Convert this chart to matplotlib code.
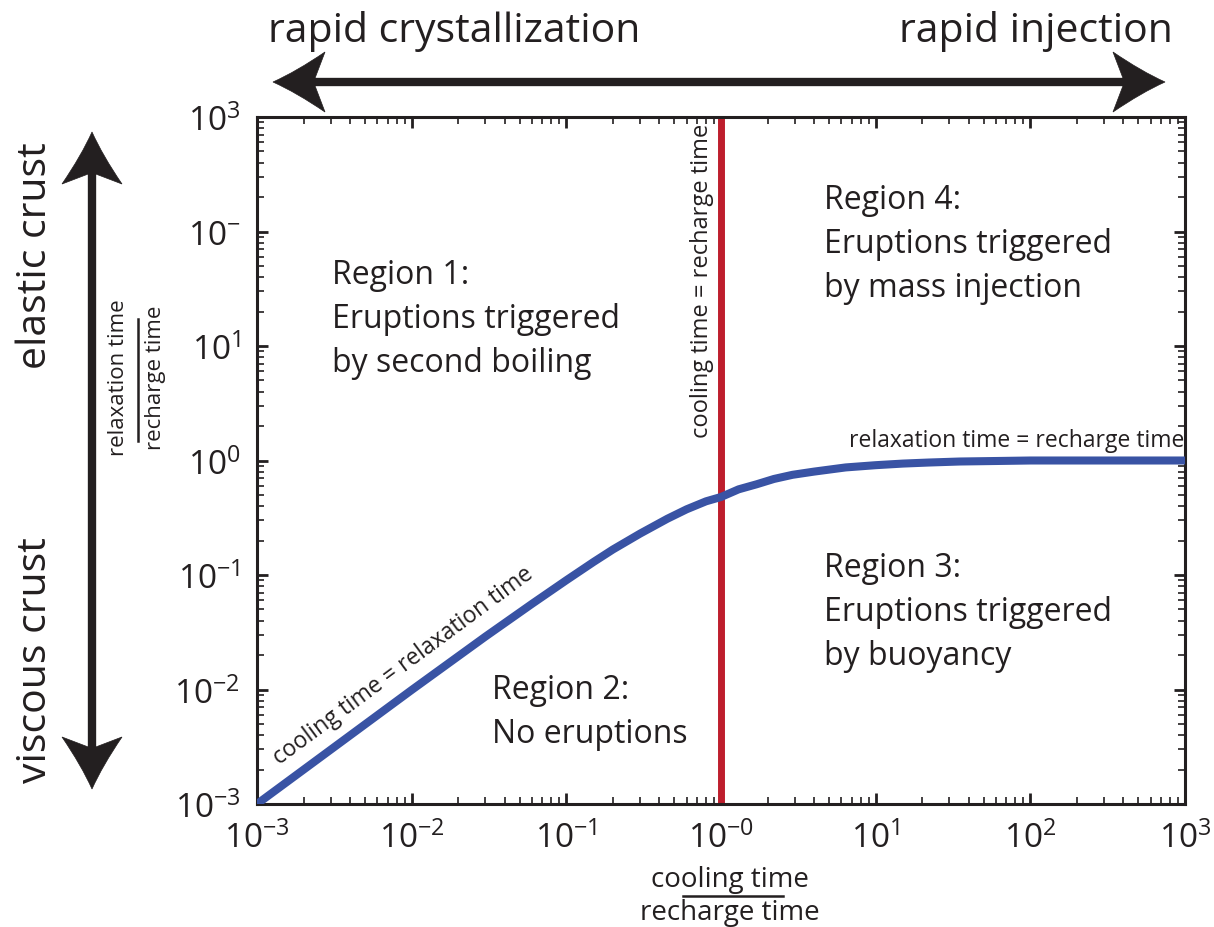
import numpy as np
import matplotlib
matplotlib.use("Agg")
import matplotlib.pyplot as plt
from matplotlib.path import Path
from matplotlib.patches import PathPatch
from matplotlib.lines import Line2D
from matplotlib.transforms import IdentityTransform
from matplotlib.ticker import FixedLocator, LogLocator, NullFormatter

plt.rcParams['font.family'] = ['Open Sans', 'DejaVu Sans']
plt.rcParams['mathtext.fontset'] = 'custom'
plt.rcParams['mathtext.rm'] = 'Open Sans'
plt.rcParams['mathtext.it'] = 'Open Sans:italic'

INK = '#231f20'
BLUE = '#3953a4'
RED = '#be1e2d'

# boundary curve: cooling time = relaxation time
cool_ratio = [1e-3, 1e-2, 0.03, 0.06, 0.1, 0.15, 0.2, 0.3, 0.45, 0.6, 0.8, 1.0, 1.3,
              1.7, 2.2, 2.9, 4.0, 6.4, 10, 15, 22, 35, 60, 100, 1000]
relax_ratio = [1e-3, 0.0099, 0.029, 0.056, 0.09, 0.13, 0.167, 0.23, 0.31, 0.375, 0.44,
               0.48, 0.56, 0.62, 0.69, 0.75, 0.80, 0.87, 0.91, 0.94, 0.96, 0.98, 0.99,
               1.0, 1.0]
# vertical boundary: cooling time = recharge time
red_x = 1.0

decades = [1e-3, 1e-2, 1e-1, 1e0, 1e1, 1e2, 1e3]
xtick_labels = [r'$\mathregular{10^{-3}}$', r'$\mathregular{10^{-2}}$', r'$\mathregular{10^{-1}}$',
                r'$\mathregular{10^{-0}}$', r'$\mathregular{10^{1}}$', r'$\mathregular{10^{2}}$',
                r'$\mathregular{10^{3}}$']
ytick_labels = [r'$\mathregular{10^{-3}}$', r'$\mathregular{10^{-2}}$', r'$\mathregular{10^{-1}}$',
                r'$\mathregular{10^{0}}$', r'$\mathregular{10^{1}}$', r'$\mathregular{10^{-}}$',
                r'$\mathregular{10^{3}}$']

regions = [
    ("Region 1:\nEruptions triggered\nby second boiling", 332, 259),
    ("Region 2:\nNo eruptions", 492, 674),
    ("Region 3:\nEruptions triggered\nby buoyancy", 824, 552),
    ("Region 4:\nEruptions triggered\nby mass injection", 824, 184),
]

W, H = 1214, 928
fig = plt.figure(figsize=(W / 100, H / 100), dpi=100)
ax = fig.add_axes([257 / W, 1 - 805 / H, 928 / W, 687 / H])
ax.set_xscale('log')
ax.set_yscale('log')
ax.set_xlim(1e-3, 1e3)
ax.set_ylim(1e-3, 1e3)

ax.plot(cool_ratio, relax_ratio, color=BLUE, lw=5.8, solid_capstyle='butt', zorder=3)
ax.axvline(red_x, color=RED, lw=5, zorder=2)

for s in ax.spines.values():
    s.set_linewidth(2.2)
    s.set_color(INK)

ax.xaxis.set_major_locator(FixedLocator(decades))
ax.yaxis.set_major_locator(FixedLocator(decades))
ax.xaxis.set_minor_locator(LogLocator(base=10, subs=np.arange(2, 10), numticks=20))
ax.yaxis.set_minor_locator(LogLocator(base=10, subs=np.arange(2, 10), numticks=20))
ax.xaxis.set_minor_formatter(NullFormatter())
ax.yaxis.set_minor_formatter(NullFormatter())
ax.set_xticklabels(xtick_labels)
ax.set_yticklabels(ytick_labels)
ax.tick_params(which='both', direction='in', top=True, right=True, colors=INK)
ax.tick_params(which='major', length=8, width=2)
ax.tick_params(which='minor', length=5, width=1.2)
ax.tick_params(axis='x', which='major', labelsize=24, pad=12)
ax.tick_params(axis='y', which='major', labelsize=24, pad=12)


def px(x, y):
    # pixel (from top-left) -> axes fraction
    return (x - 257) / 928, (805 - y) / 687


for txt, x0, y0 in regions:
    ax.text(*px(x0, y0), txt, transform=ax.transAxes, fontsize=23, color=INK,
            ha='left', va='top', linespacing=1.45)

ax.text(*px(714, 124), 'cooling time = recharge time', transform=ax.transAxes,
        rotation=90, fontsize=17, color=INK, ha='right', va='top')
ax.text(*px(1184, 453), 'relaxation time = recharge time', transform=ax.transAxes,
        fontsize=16.5, color=INK, ha='right', va='bottom')
ax.text(*px(410, 676), 'cooling time = relaxation time', transform=ax.transAxes,
        rotation=36.5, rotation_mode='anchor', fontsize=16.5, color=INK,
        ha='center', va='bottom')

# axis labels written as fractions
fig.text(730 / W, 1 - 880 / H, 'cooling time', fontsize=20, color=INK, ha='center', va='center')
fig.text(730 / W, 1 - 913 / H, 'recharge time', fontsize=20, color=INK, ha='center', va='center')
fig.add_artist(Line2D([683, 783], [H - 897, H - 897], transform=IdentityTransform(),
                      color=INK, lw=1.8))
fig.text(119 / W, 1 - 378 / H, 'relaxation time', fontsize=16, color=INK, rotation=90,
         ha='center', va='center')
fig.text(156 / W, 1 - 378 / H, 'recharge time', fontsize=16, color=INK, rotation=90,
         ha='center', va='center')
fig.add_artist(Line2D([138, 138], [H - 320, H - 442], transform=IdentityTransform(),
                      color=INK, lw=1.8))

# big annotation arrows
fig.text(268 / W, 1 - 32 / H, 'rapid crystallization', fontsize=29.5, color=INK,
         ha='left', va='center')
fig.text(1173 / W, 1 - 32 / H, 'rapid injection', fontsize=29.5, color=INK,
         ha='right', va='center')
fig.text(36 / W, 1 - 256 / H, 'elastic crust', fontsize=29.5, color=INK, rotation=90,
         ha='center', va='center')
fig.text(36 / W, 1 - 660 / H, 'viscous crust', fontsize=29.5, color=INK, rotation=90,
         ha='center', va='center')


def stealth_head(tip, direction, length=52, half=30):
    t = np.array(tip, float)
    d = np.array(direction, float)
    d /= np.hypot(*d)
    n = np.array([-d[1], d[0]])
    back1 = t - d * length + n * half
    back2 = t - d * length - n * half
    notch = t - d * length * 0.78
    c1 = t - d * length * 0.45 + n * half * 0.35
    c2 = t - d * length * 0.45 - n * half * 0.35
    verts = [t, c1, back1, notch, notch, back2, c2, t, t]
    codes = [Path.MOVETO, Path.CURVE3, Path.CURVE3, Path.LINETO, Path.LINETO,
             Path.LINETO, Path.CURVE3, Path.CURVE3, Path.CLOSEPOLY]
    fig.add_artist(PathPatch(Path(verts, codes), transform=IdentityTransform(),
                             facecolor=INK, edgecolor=INK, lw=0.5))
    return notch


def double_arrow(p0, p1):
    p0 = np.array(p0, float)
    p1 = np.array(p1, float)
    a = stealth_head(p0, p0 - p1)
    b = stealth_head(p1, p1 - p0)
    fig.add_artist(Line2D([a[0], b[0]], [a[1], b[1]], transform=IdentityTransform(),
                          color=INK, lw=6))


double_arrow((273, H - 83), (1165, H - 83))
double_arrow((92, H - 133), (92, H - 790))

fig.savefig('out.png', dpi=100)
